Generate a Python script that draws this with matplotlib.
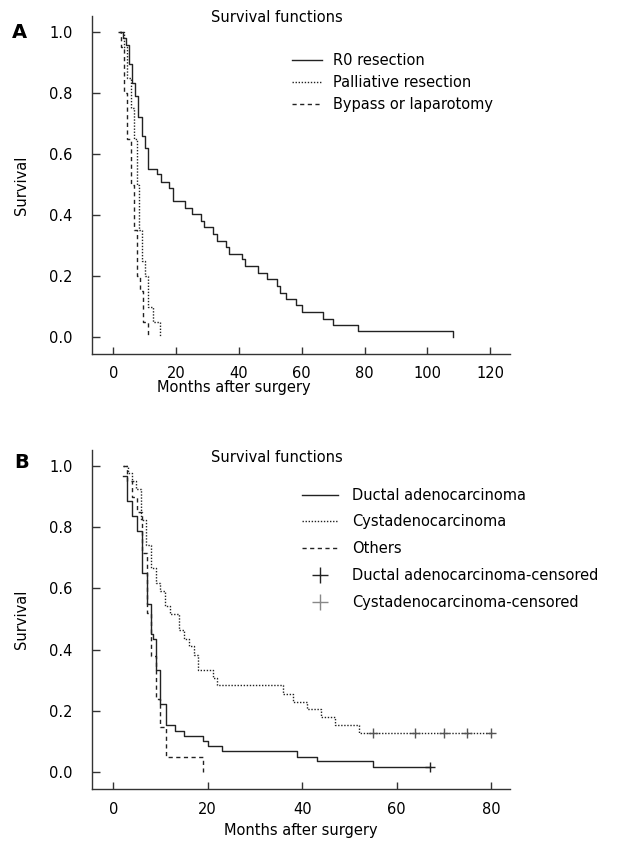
import numpy as np
import matplotlib
matplotlib.use("Agg")
import matplotlib.pyplot as plt
from matplotlib.lines import Line2D

# ---------------------------------------------------------------------
# Panel A: survival by type of surgery (step points)
# ---------------------------------------------------------------------
R0_T = [2.1, 3.2, 3.9, 5.0, 5.8, 6.9, 7.9, 9.0, 10.0, 11.1, 14.0, 15.1, 17.8, 18.9,
        22.8, 25.0, 27.9, 28.9, 31.8, 32.9, 35.9, 36.7, 40.9, 41.9, 46.0, 49.0,
        52.0, 53.1, 55.0, 58.1, 60.0, 66.9, 69.9, 77.8, 108.1]
R0_S = [1.0, 0.979, 0.957, 0.894, 0.832, 0.79, 0.722, 0.659, 0.619, 0.551, 0.533,
        0.509, 0.49, 0.447, 0.424, 0.404, 0.382, 0.36, 0.338, 0.316, 0.296, 0.274,
        0.255, 0.233, 0.209, 0.189, 0.167, 0.145, 0.124, 0.104, 0.082, 0.06, 0.04,
        0.019, 0.0]

PALL_T = [2.0, 3.5, 4.5, 5.5, 6.5, 7.5, 8.3, 9.0, 10.0, 11.0, 12.7, 14.9]
PALL_S = [1.0, 0.95, 0.85, 0.75, 0.65, 0.5, 0.35, 0.25, 0.2, 0.1, 0.05, 0.0]

BYP_T = [1.5, 2.5, 3.5, 4.5, 5.5, 6.5, 7.5, 8.5, 9.5, 11.0]
BYP_S = [1.0, 0.95, 0.8, 0.65, 0.5, 0.35, 0.2, 0.15, 0.05, 0.0]

# ---------------------------------------------------------------------
# Panel B: survival by histology
# ---------------------------------------------------------------------
DUCT_T = [2.0, 3.0, 4.0, 5.1, 6.1, 7.1, 8.0, 8.5, 9.0, 10.0, 11.1, 13.1, 15.0,
          19.1, 20.0, 23.1, 39.0, 43.1, 55.0, 67.0]
DUCT_S = [0.968, 0.884, 0.835, 0.786, 0.65, 0.55, 0.45, 0.435, 0.335, 0.221,
          0.153, 0.135, 0.118, 0.102, 0.086, 0.068, 0.051, 0.035, 0.017, 0.017]
DUCT_CENS_T = [67.0]
DUCT_CENS_S = [0.017]

CYST_T = [2.0, 3.2, 3.9, 4.8, 5.9, 6.9, 8.0, 9.0, 10.0, 11.0, 12.0, 13.9, 15.0,
          16.0, 17.0, 18.0, 21.1, 21.9, 35.9, 38.0, 41.1, 44.0, 47.0, 52.1, 80.2]
CYST_S = [1.0, 0.976, 0.951, 0.924, 0.824, 0.743, 0.667, 0.618, 0.59, 0.542,
          0.515, 0.463, 0.435, 0.411, 0.384, 0.335, 0.308, 0.283, 0.256, 0.23,
          0.205, 0.18, 0.154, 0.129, 0.129]
CYST_CENS_T = [55.0, 63.9, 70.1, 75.0, 80.0]
CYST_CENS_S = [0.129, 0.129, 0.129, 0.129, 0.129]

OTH_T = [2.0, 3.0, 4.0, 5.1, 6.1, 7.1, 8.0, 9.0, 10.0, 11.1, 19.1]
OTH_S = [1.0, 0.95, 0.9, 0.85, 0.716, 0.52, 0.38, 0.24, 0.146, 0.049, 0.0]

FS = 10.5
LC = "#222222"
DOT = (0, (1.0, 1.2))
DASH = (0, (3.0, 2.5))

plt.rcParams["font.family"] = ["DejaVu Sans"]
plt.rcParams["font.size"] = FS


def style_axes(ax, xticks, xlim):
    for s in ["top", "right"]:
        ax.spines[s].set_visible(False)
    for s in ["left", "bottom"]:
        ax.spines[s].set_color("#333333")
        ax.spines[s].set_linewidth(1.0)
    ax.set_xlim(*xlim)
    ax.set_ylim(-0.055, 1.052)
    ax.set_xticks(xticks)
    ax.set_yticks([0.0, 0.2, 0.4, 0.6, 0.8, 1.0])
    ax.set_yticklabels(["0.0", "0.2", "0.4", "0.6", "0.8", "1.0"])
    ax.tick_params(axis="y", direction="in", length=6, width=1.0, pad=14,
                   color="#333333", labelsize=FS)
    ax.tick_params(axis="x", direction="in", length=5, width=1.0, pad=9,
                   color="#333333", labelsize=FS)
    ax.set_ylabel("Survival", fontsize=FS)
    ax.yaxis.set_label_coords(-0.151, 0.5)


def step(ax, t, s, ls, lw=1.0, color=LC):
    ax.plot(t, s, drawstyle="steps-post", linestyle=ls, color=color, linewidth=lw)


fig = plt.figure(figsize=(6.26, 8.41), dpi=100)

# ---------------- Panel A ----------------
axA = fig.add_axes([92 / 626, 1 - 354 / 841, 418 / 626, 338 / 841])
step(axA, R0_T, R0_S, "-")
step(axA, PALL_T, PALL_S, DOT)
step(axA, BYP_T, BYP_S, DASH)
style_axes(axA, [0, 20, 40, 60, 80, 100, 120], (-6.8, 126.3))
axA.set_xlabel("Months after surgery", fontsize=FS)
axA.xaxis.set_label_coords(0.34, -0.078)
handlesA = [Line2D([], [], color=LC, lw=1.0, ls="-"),
            Line2D([], [], color=LC, lw=1.0, ls=DOT),
            Line2D([], [], color=LC, lw=1.0, ls=DASH)]
axA.legend(handlesA, ["R0 resection", "Palliative resection", "Bypass or laparotomy"],
           loc="upper left", bbox_to_anchor=(0.478, 0.89), frameon=False,
           borderpad=0, borderaxespad=0, handlelength=2.1, handletextpad=0.7,
           labelspacing=0.49, fontsize=FS)
fig.text(211 / 626, 1 - 17 / 841, "Survival functions", fontsize=FS, va="center")
fig.text(12 / 626, 1 - 32 / 841, "A", fontsize=14, fontweight="bold", va="center")

# ---------------- Panel B ----------------
axB = fig.add_axes([92 / 626, 1 - 789 / 841, 418 / 626, 339 / 841])
step(axB, DUCT_T, DUCT_S, "-")
step(axB, CYST_T, CYST_S, DOT)
step(axB, OTH_T, OTH_S, DASH)
axB.plot(DUCT_CENS_T, DUCT_CENS_S, ls="none", marker="+", ms=7, mew=1.0, color=LC)
axB.plot(CYST_CENS_T, CYST_CENS_S, ls="none", marker="+", ms=7, mew=1.0, color="#555555")
style_axes(axB, [0, 20, 40, 60, 80], (-4.5, 84.0))
axB.set_xlabel("Months after surgery", fontsize=FS)
axB.xaxis.set_label_coords(0.5, -0.1)
handlesB = [Line2D([], [], color=LC, lw=1.0, ls="-"),
            Line2D([], [], color=LC, lw=1.0, ls=DOT),
            Line2D([], [], color=LC, lw=1.0, ls=DASH),
            Line2D([], [], color=LC, lw=1.0, ls="none", marker="+", ms=11, mew=1.0),
            Line2D([], [], color="#888888", lw=1.0, ls="none", marker="+", ms=11, mew=1.0)]
axB.legend(handlesB, ["Ductal adenocarcinoma", "Cystadenocarcinoma", "Others",
                      "Ductal adenocarcinoma-censored", "Cystadenocarcinoma-censored"],
           loc="upper left", bbox_to_anchor=(0.502, 0.889), frameon=False,
           borderpad=0, borderaxespad=0, handlelength=2.5, handletextpad=0.95,
           labelspacing=0.81, fontsize=FS)
fig.text(211 / 626, 1 - 457 / 841, "Survival functions", fontsize=FS, va="center")
fig.text(14 / 626, 1 - 462 / 841, "B", fontsize=14, fontweight="bold", va="center")

fig.savefig("out.png", dpi=100)
